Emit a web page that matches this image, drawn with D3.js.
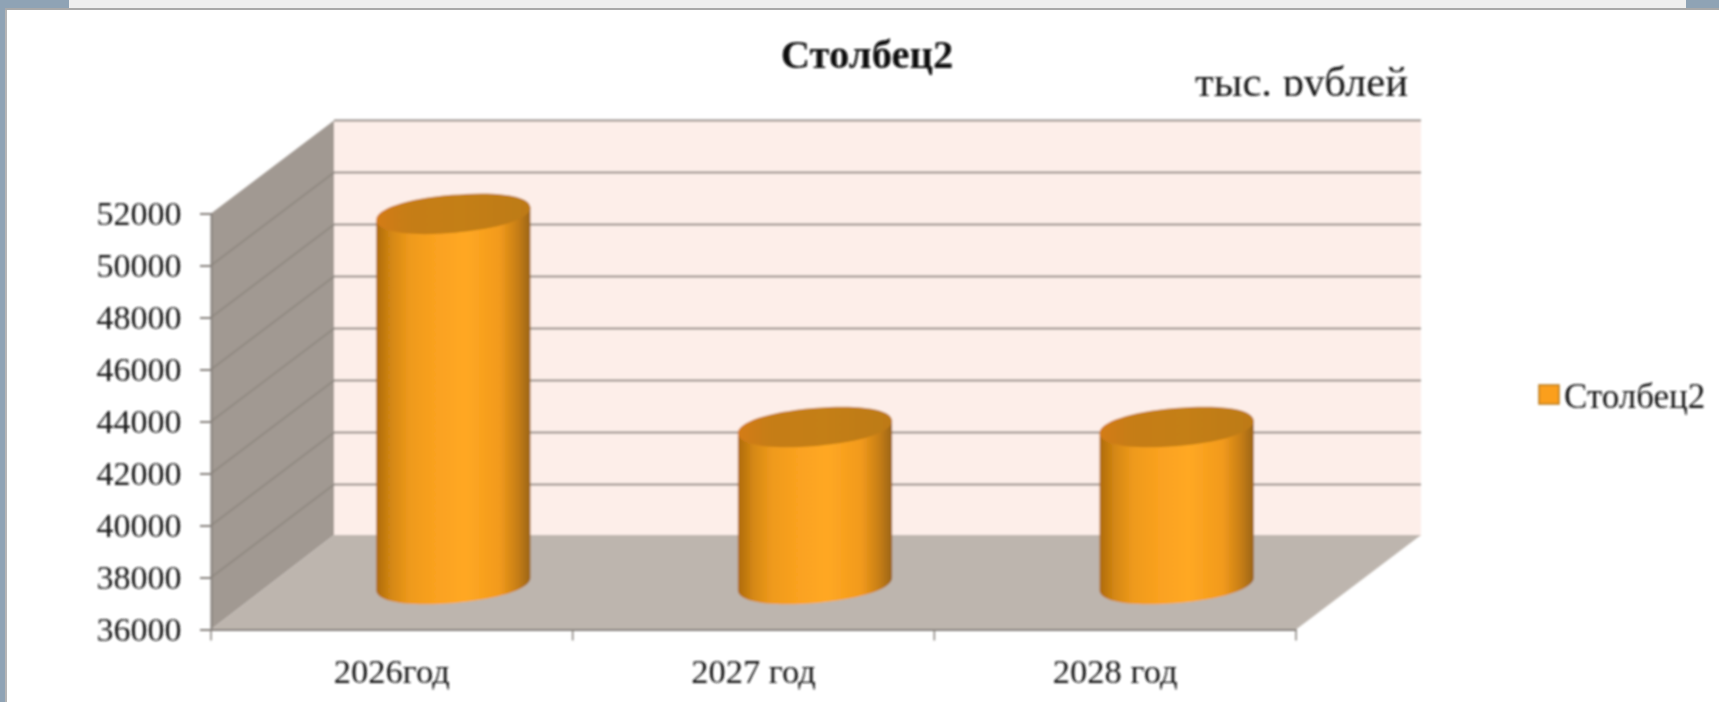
<!DOCTYPE html>
<html>
<head>
<meta charset="utf-8">
<script src="https://cdn.jsdelivr.net/npm/d3@7"></script>
<style>
  html, body { margin: 0; padding: 0; background: #fff; overflow: hidden; }
  text { font-family: "Liberation Serif", serif; fill: #151515; }
</style>
</head>
<body>
<div id="chart"></div>
<script>
const categories = ["2026год", "2027 год", "2028 год"];
const seriesName = "Столбец2";
const seriesValues = [50200, 42000, 42000];
const yTicks = [36000, 38000, 40000, 42000, 44000, 46000, 48000, 50000, 52000];
const unitLabel = "тыс. рублей";

const width = 1719;
const height = 702;
const frontLeft = 211;
const frontRight = 1296;
const frontTop = 213.5;
const frontBottom = 629.5;
const depthX = 123;
const depthXRight = 125;
const depthY = -93;
const floorBackY = 535;
const cylHalf = 77;
const cylRx = 77.4;
const cylRy = 19;
const tiltDeg = -5;
const roundness = 0.6;

const svg = d3.select("#chart")
  .append("svg")
  .attr("width", width)
  .attr("height", height)
  .attr("viewBox", `0 0 ${width} ${height}`)
  .style("display", "block");

const defs = svg.append("defs");

const blur = defs.append("filter").attr("id", "soft");
blur.append("feGaussianBlur").attr("stdDeviation", 0.8);

const bodyGrad = defs.append("linearGradient").attr("id", "cylBody");
[[0, "#ad6a10"], [0.1, "#d58812"], [0.22, "#ef9a1c"], [0.4, "#fba220"], [0.58, "#ffa822"],
 [0.8, "#f29a1c"], [0.92, "#c57d14"], [1, "#9a6414"]].forEach(d => {
  bodyGrad.append("stop").attr("offset", d[0]).attr("stop-color", d[1]);
});

const topGrad = defs.append("linearGradient").attr("id", "cylTop");
[[0, "#d47c14"], [0.2, "#c67d18"], [0.55, "#c47f12"], [1, "#bd7a18"]].forEach(d => {
  topGrad.append("stop").attr("offset", d[0]).attr("stop-color", d[1]);
});

defs.append("clipPath").attr("id", "unitClip")
  .append("rect")
  .attr("x", 1180)
  .attr("y", 50)
  .attr("width", 240)
  .attr("height", 45.5);

const xScale = d3.scaleBand()
  .domain(categories)
  .range([frontLeft, frontRight]);

const yScale = d3.scaleLinear()
  .domain([yTicks[0], yTicks[yTicks.length - 1]])
  .range([frontBottom, frontTop]);

const yMin = yTicks[0];
const yMax = yTicks[yTicks.length - 1];

// window frame behind the slide
const frame = svg.append("g");
frame.append("rect").attr("width", width).attr("height", height).attr("fill", "#fff");
frame.append("rect").attr("width", 6).attr("height", height).attr("fill", "#8fa3b5");
frame.append("rect").attr("x", 5).attr("y", 8).attr("width", 2).attr("height", height).attr("fill", "#b5b5b5");
frame.append("rect").attr("width", 70).attr("height", 9).attr("fill", "#8fa3b5");
frame.append("rect").attr("x", 1686).attr("width", 33).attr("height", 9).attr("fill", "#8fa3b5");
frame.append("rect").attr("x", 69).attr("width", 1617).attr("height", 8).attr("fill", "#efefef");
frame.append("rect").attr("x", 5).attr("y", 8).attr("width", width).attr("height", 2).attr("fill", "#a9a9a9");

const chart = svg.append("g").attr("filter", "url(#soft)");

// walls and floor
const polygon = pts => pts.map(p => p.join(",")).join(" ");

chart.append("rect")
  .attr("x", frontLeft + depthX)
  .attr("y", yScale(yMax) + depthY)
  .attr("width", frontRight + depthXRight - frontLeft - depthX)
  .attr("height", yScale(yMin) - yScale(yMax))
  .attr("fill", "#fdeee9");

chart.append("polygon")
  .attr("points", polygon([
    [frontLeft, yScale(yMax)],
    [frontLeft + depthX, yScale(yMax) + depthY],
    [frontLeft + depthX, floorBackY],
    [frontLeft, yScale(yMin)]
  ]))
  .attr("fill", "#a19992");

// gridlines
chart.append("g").selectAll("line")
  .data(yTicks.slice(1))
  .join("line")
  .attr("x1", frontLeft + depthX)
  .attr("x2", frontRight + depthXRight)
  .attr("y1", d => yScale(d) + depthY)
  .attr("y2", d => yScale(d) + depthY)
  .attr("stroke", "#958d88")
  .attr("stroke-width", 2.2);

chart.append("g").selectAll("line")
  .data(yTicks.slice(1, -1))
  .join("line")
  .attr("x1", frontLeft)
  .attr("x2", frontLeft + depthX)
  .attr("y1", d => yScale(d))
  .attr("y2", d => yScale(d) + depthY)
  .attr("stroke", "#8f8881")
  .attr("stroke-width", 1.6);

chart.append("polygon")
  .attr("points", polygon([
    [frontLeft, yScale(yMin)],
    [frontRight, yScale(yMin)],
    [frontRight + depthXRight, floorBackY],
    [frontLeft + depthX, floorBackY]
  ]))
  .attr("fill", "#bdb5ae");

// axes
const yAxisGroup = chart.append("g")
  .attr("transform", `translate(${frontLeft}, 0)`)
  .call(d3.axisLeft(yScale).tickValues(yTicks).tickFormat(d3.format("d")).tickSize(11).tickPadding(18.5));

const xAxisGroup = chart.append("g")
  .attr("transform", `translate(0, ${frontBottom})`)
  .call(d3.axisBottom(xScale).tickSize(0).tickPadding(29));

chart.selectAll(".domain").attr("stroke", "#85807b").attr("stroke-width", 2);
yAxisGroup.selectAll("line").attr("stroke", "#85807b").attr("stroke-width", 2);
yAxisGroup.selectAll("text").attr("font-size", 34);
xAxisGroup.selectAll("text").attr("font-size", 34.5);
chart.selectAll(".tick text").attr("font-family", "Liberation Serif").attr("fill", "#151515");

// category boundary ticks
chart.append("g").selectAll("line")
  .data([0, 1, 2, 3])
  .join("line")
  .attr("x1", d => frontLeft + d * xScale.step())
  .attr("x2", d => frontLeft + d * xScale.step())
  .attr("y1", frontBottom)
  .attr("y2", frontBottom + 11)
  .attr("stroke", "#85807b")
  .attr("stroke-width", 1.5);

// cylinders
const cylX = d => xScale(d) + xScale.bandwidth() / 2 + depthX / 2;
const cylTopY = v => yScale(v) + depthY / 2;
const cylBaseY = yScale(yMin) + depthY / 2 + 1;

// point on the tilted cap, given in the cap's own coordinates
const tilted = (cx, cy, u, v) => {
  const a = tiltDeg * Math.PI / 180;
  return [cx + u * Math.cos(a) - v * Math.sin(a), cy + u * Math.sin(a) + v * Math.cos(a)];
};

// left to right along the lower edge of the cap
const lowerEdge = (cx, cy) => {
  const k = roundness;
  const p = (u, v) => tilted(cx, cy, u, v).join(",");
  return `C${p(-cylRx, k * cylRy)} ${p(-k * cylRx, cylRy)} ${p(0, cylRy)}` +
    `C${p(k * cylRx, cylRy)} ${p(cylRx, k * cylRy)} ${p(cylRx, 0)}`;
};

// right to left along the upper edge of the cap
const upperEdge = (cx, cy) => {
  const k = roundness;
  const p = (u, v) => tilted(cx, cy, u, v).join(",");
  return `C${p(cylRx, -k * cylRy)} ${p(k * cylRx, -cylRy)} ${p(0, -cylRy)}` +
    `C${p(-k * cylRx, -cylRy)} ${p(-cylRx, -k * cylRy)} ${p(-cylRx, 0)}`;
};

const cylinders = chart.append("g").selectAll("g")
  .data(categories.map((c, i) => ({ category: c, value: seriesValues[i] })))
  .join("g");

cylinders.append("path")
  .attr("fill", "url(#cylBody)")
  .attr("d", d => {
    const x = cylX(d.category);
    const t = cylTopY(d.value);
    return `M${tilted(x, t, -cylRx, 0).join(",")}` +
      `L${tilted(x, cylBaseY, -cylRx, 0).join(",")}` +
      lowerEdge(x, cylBaseY) +
      `L${tilted(x, t, cylRx, 0).join(",")}Z`;
  });

cylinders.append("path")
  .attr("fill", "url(#cylTop)")
  .attr("d", d => {
    const x = cylX(d.category);
    const t = cylTopY(d.value);
    return `M${tilted(x, t, -cylRx, 0).join(",")}` + lowerEdge(x, t) + upperEdge(x, t) + "Z";
  });

// title, unit, legend
chart.append("text")
  .attr("x", 867)
  .attr("y", 68)
  .attr("text-anchor", "middle")
  .attr("font-size", 40.7)
  .attr("font-weight", "bold")
  .style("fill", "#0a0a0a")
  .text(seriesName);

chart.append("g")
  .attr("clip-path", "url(#unitClip)")
  .append("text")
  .attr("x", 1408)
  .attr("y", 96)
  .attr("text-anchor", "end")
  .attr("font-size", 42.7)
  .text(unitLabel);

chart.append("rect")
  .attr("x", 1539)
  .attr("y", 385)
  .attr("width", 20)
  .attr("height", 19)
  .attr("fill", "#fb9f1f")
  .attr("stroke", "#b8791c")
  .attr("stroke-width", 1.5);

chart.append("text")
  .attr("x", 1564)
  .attr("y", 408)
  .attr("font-size", 35)
  .text(seriesName);
</script>
</body>
</html>
